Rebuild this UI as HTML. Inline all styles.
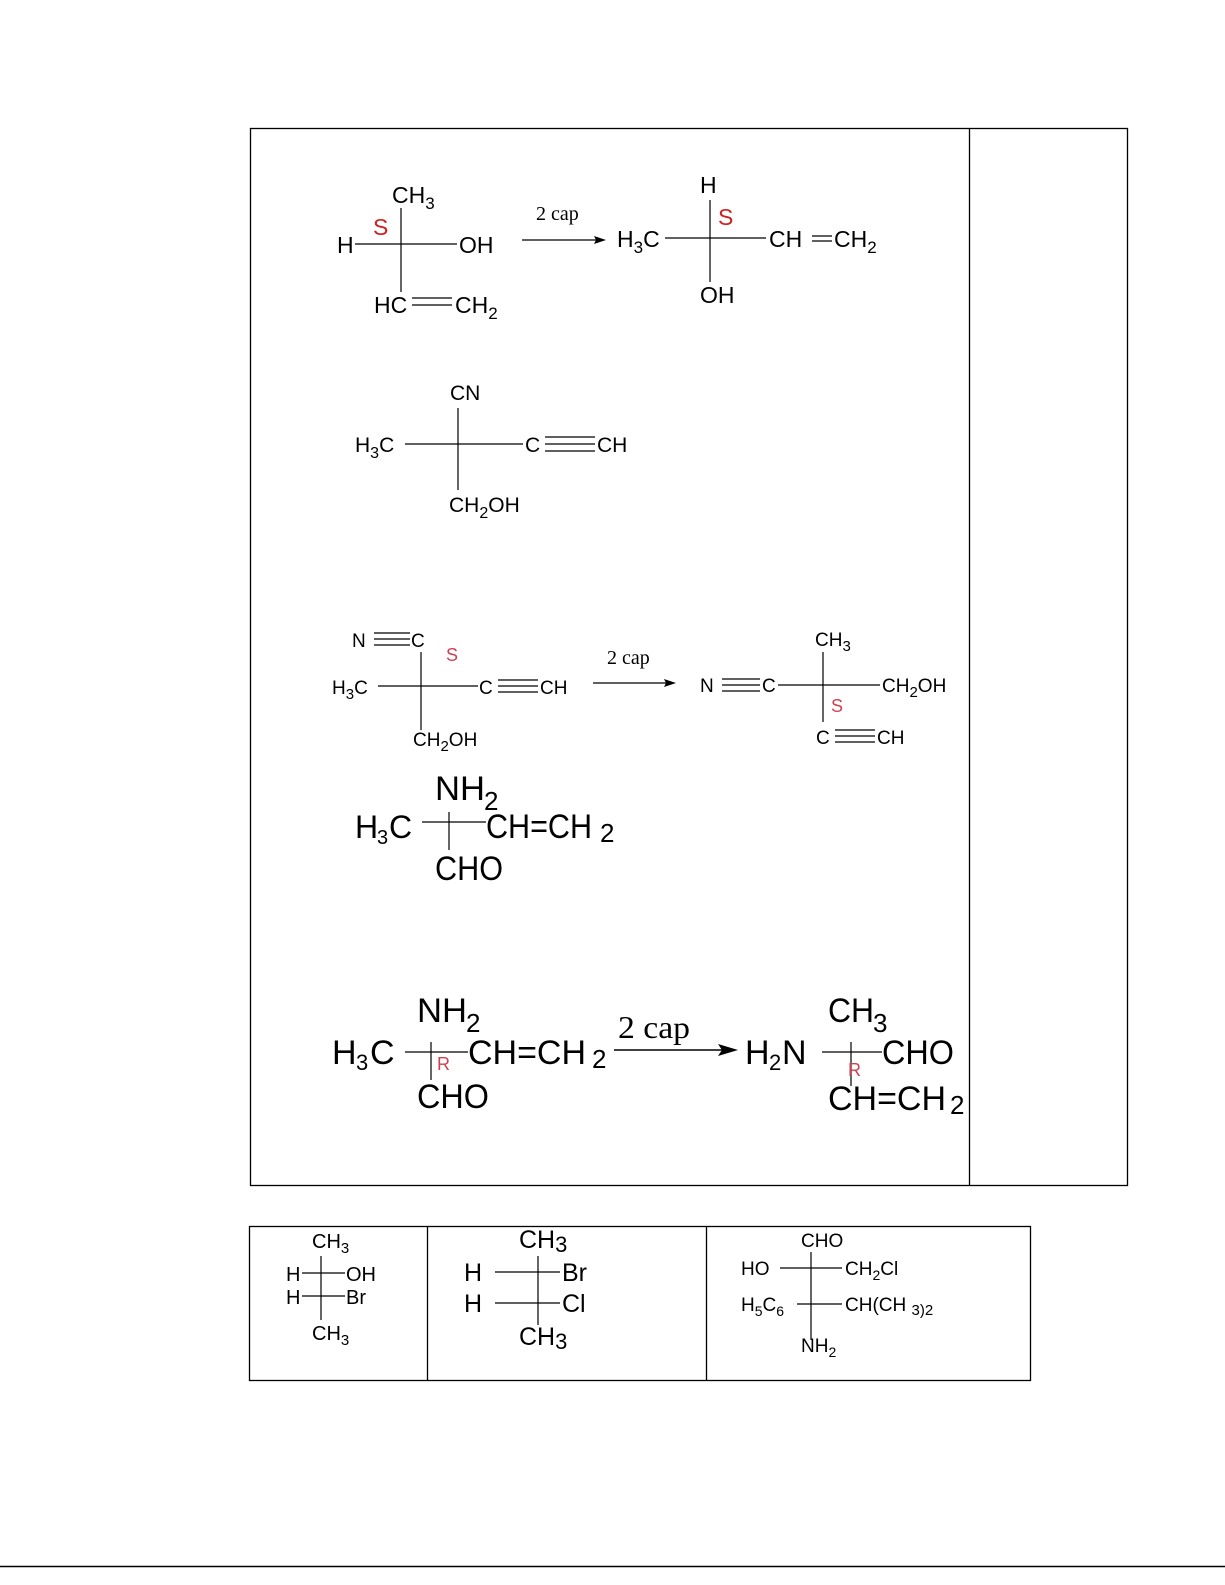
<!DOCTYPE html>
<html><head><meta charset="utf-8"><style>body{margin:0;background:#fff}svg{display:block}</style></head><body>
<svg width="1225" height="1585" viewBox="0 0 1225 1585" xmlns="http://www.w3.org/2000/svg" font-family="Liberation Sans, sans-serif" fill="#000">
<g stroke="#000" stroke-width="1.3" fill="none">
<rect x="250.5" y="128.5" width="877" height="1057"/>
<line x1="969.5" y1="128" x2="969.5" y2="1185"/>
<rect x="249.5" y="1226.5" width="781" height="154"/>
<line x1="427.5" y1="1226" x2="427.5" y2="1381"/>
<line x1="706.5" y1="1226" x2="706.5" y2="1381"/>
<line x1="0" y1="1566.5" x2="1225" y2="1566.5" stroke-width="1.5"/>
</g>
<g stroke="#000" stroke-width="1.2" fill="none">
<line x1="401" y1="208" x2="401" y2="292"/><line x1="355" y1="244" x2="457" y2="244"/>
<line x1="412" y1="298" x2="452" y2="298"/><line x1="412" y1="305" x2="452" y2="305"/>
<line x1="522" y1="240" x2="600" y2="240"/>
<line x1="710" y1="200" x2="710" y2="282"/><line x1="665" y1="238" x2="766" y2="238"/>
<line x1="812" y1="236" x2="832" y2="236"/><line x1="812" y1="241" x2="832" y2="241"/>
<line x1="458" y1="408" x2="458" y2="490"/><line x1="405" y1="444" x2="523" y2="444"/>
<line x1="545" y1="437" x2="595" y2="437"/><line x1="545" y1="444" x2="595" y2="444"/><line x1="545" y1="451" x2="595" y2="451"/>
<line x1="374" y1="633" x2="410" y2="633"/><line x1="374" y1="639" x2="410" y2="639"/><line x1="374" y1="645" x2="410" y2="645"/>
<line x1="421" y1="652" x2="421" y2="730"/><line x1="378" y1="686" x2="478" y2="686"/>
<line x1="498" y1="680" x2="538" y2="680"/><line x1="498" y1="686" x2="538" y2="686"/><line x1="498" y1="692" x2="538" y2="692"/>
<line x1="593" y1="683" x2="670" y2="683"/>
<line x1="722" y1="679" x2="760" y2="679"/><line x1="722" y1="685" x2="760" y2="685"/><line x1="722" y1="691" x2="760" y2="691"/>
<line x1="823" y1="652" x2="823" y2="722"/><line x1="778" y1="685" x2="880" y2="685"/>
<line x1="835" y1="730" x2="875" y2="730"/><line x1="835" y1="736" x2="875" y2="736"/><line x1="835" y1="742" x2="875" y2="742"/>
<line x1="449" y1="812" x2="449" y2="850"/><line x1="422" y1="822" x2="486" y2="822"/>
<line x1="431" y1="1042" x2="431" y2="1080"/><line x1="405" y1="1052" x2="468" y2="1052"/>
<line x1="614" y1="1050" x2="725" y2="1050" stroke-width="1.6"/>
<line x1="851" y1="1042" x2="851" y2="1086"/><line x1="822" y1="1052" x2="882" y2="1052"/>
<line x1="321" y1="1256" x2="321" y2="1320"/><line x1="302" y1="1273" x2="345" y2="1273"/><line x1="302" y1="1296" x2="345" y2="1296"/>
<line x1="538" y1="1256" x2="538" y2="1325"/><line x1="495" y1="1272" x2="560" y2="1272"/><line x1="495" y1="1303" x2="560" y2="1303"/>
<line x1="811" y1="1252" x2="811" y2="1340"/><line x1="780" y1="1268" x2="842" y2="1268"/><line x1="797" y1="1304" x2="842" y2="1304"/>
</g>
<polygon points="606,240 594,236 596,240 594,244"/>
<polygon points="676,683 664,679 666,683 664,687"/>
<polygon points="738,1050 718,1044 722,1050 718,1056"/>
<g font-size="23">
<text x="392" y="203">CH<tspan font-size="17" dy="6">3</tspan></text>
<text x="337" y="253">H</text><text x="459" y="253">OH</text>
<text x="374" y="313">HC</text><text x="455" y="313">CH<tspan font-size="17" dy="6">2</tspan></text>
<text x="700" y="193">H</text><text x="617" y="247">H<tspan font-size="17" dy="6">3</tspan><tspan dy="-6">C</tspan></text>
<text x="769" y="247">CH</text><text x="834" y="247">CH<tspan font-size="17" dy="6">2</tspan></text>
<text x="700" y="303">OH</text>
</g>
<g font-size="23" fill="#d02020"><text x="373" y="235">S</text><text x="718" y="225">S</text></g>
<g font-family="Liberation Serif, serif" font-size="20"><text x="536" y="220">2 cap</text><text x="607" y="664">2 cap</text></g>
<g font-size="21">
<text x="450" y="400">CN</text>
<text x="355" y="452">H<tspan font-size="16" dy="6">3</tspan><tspan dy="-6">C</tspan></text>
<text x="525" y="452">C</text><text x="597" y="452">CH</text>
<text x="449" y="512">CH<tspan font-size="16" dy="6">2</tspan><tspan dy="-6">OH</tspan></text>
</g>
<g font-size="19">
<text x="352" y="647">N</text><text x="411" y="647">C</text>
<text x="332" y="694">H<tspan font-size="15" dy="5">3</tspan><tspan dy="-5">C</tspan></text>
<text x="479" y="694">C</text><text x="540" y="694">CH</text>
<text x="413" y="746">CH<tspan font-size="15" dy="5">2</tspan><tspan dy="-5">OH</tspan></text>
<text x="700" y="692">N</text><text x="762" y="692">C</text>
<text x="815" y="646">CH<tspan font-size="15" dy="5">3</tspan></text>
<text x="882" y="692">CH<tspan font-size="15" dy="5">2</tspan><tspan dy="-5">OH</tspan></text>
<text x="816" y="744">C</text><text x="877" y="744">CH</text>
</g>
<g font-size="18" fill="#d04050"><text x="446" y="661">S</text><text x="831" y="712">S</text></g>
<g font-size="34">
<text x="435" y="800" textLength="50" lengthAdjust="spacingAndGlyphs">NH</text><text x="484" y="810" font-size="26">2</text>
<text x="355" y="838" font-size="32">H</text><text x="377" y="844" font-size="20">3</text><text x="389" y="838" font-size="32">C</text>
<text x="486" y="838" textLength="106" lengthAdjust="spacingAndGlyphs">CH=CH</text><text x="600" y="842" font-size="26">2</text>
<text x="435" y="880" textLength="68" lengthAdjust="spacingAndGlyphs">CHO</text>
<text x="417" y="1022" textLength="50" lengthAdjust="spacingAndGlyphs">NH</text><text x="466" y="1032" font-size="26">2</text>
<text x="332" y="1064">H</text><text x="356" y="1070" font-size="22">3</text><text x="370" y="1064">C</text>
<text x="468" y="1064" textLength="118" lengthAdjust="spacingAndGlyphs">CH=CH</text><text x="592" y="1068" font-size="26">2</text>
<text x="417" y="1108" textLength="72" lengthAdjust="spacingAndGlyphs">CHO</text>
<text x="745" y="1064">H</text><text x="769" y="1070" font-size="22">2</text><text x="782" y="1064">N</text>
<text x="828" y="1022" textLength="46" lengthAdjust="spacingAndGlyphs">CH</text><text x="873" y="1032" font-size="26">3</text>
<text x="882" y="1064" textLength="72" lengthAdjust="spacingAndGlyphs">CHO</text>
<text x="828" y="1110" textLength="118" lengthAdjust="spacingAndGlyphs">CH=CH</text><text x="950" y="1114" font-size="26">2</text>
</g>
<g font-family="Liberation Serif, serif" font-size="32"><text x="618" y="1038" textLength="72" lengthAdjust="spacingAndGlyphs">2 cap</text></g>
<g font-size="18" fill="#d04050"><text x="437" y="1070">R</text><text x="848" y="1076">R</text></g>
<g font-size="20">
<text x="312" y="1248">CH<tspan font-size="15" dy="5">3</tspan></text>
<text x="286" y="1281">H</text><text x="346" y="1281">OH</text>
<text x="286" y="1304">H</text><text x="346" y="1304">Br</text>
<text x="312" y="1340">CH<tspan font-size="15" dy="5">3</tspan></text>
</g>
<g font-size="25">
<text x="519" y="1248">CH<tspan font-size="22" dy="4">3</tspan></text>
<text x="464" y="1281">H</text><text x="562" y="1281">Br</text>
<text x="464" y="1312">H</text><text x="562" y="1312">Cl</text>
<text x="519" y="1345">CH<tspan font-size="22" dy="4">3</tspan></text>
</g>
<g font-size="19">
<text x="801" y="1247">CHO</text>
<text x="741" y="1275">HO</text><text x="845" y="1275">CH<tspan font-size="14" dy="5">2</tspan><tspan dy="-5">Cl</tspan></text>
<text x="741" y="1311">H<tspan font-size="14" dy="5">5</tspan><tspan dy="-5">C</tspan><tspan font-size="14" dy="5">6</tspan></text>
<text x="845" y="1311">CH(CH <tspan font-size="15" dy="4">3)2</tspan></text>
<text x="801" y="1352">NH<tspan font-size="14" dy="5">2</tspan></text>
</g>
</svg>
</body></html>
